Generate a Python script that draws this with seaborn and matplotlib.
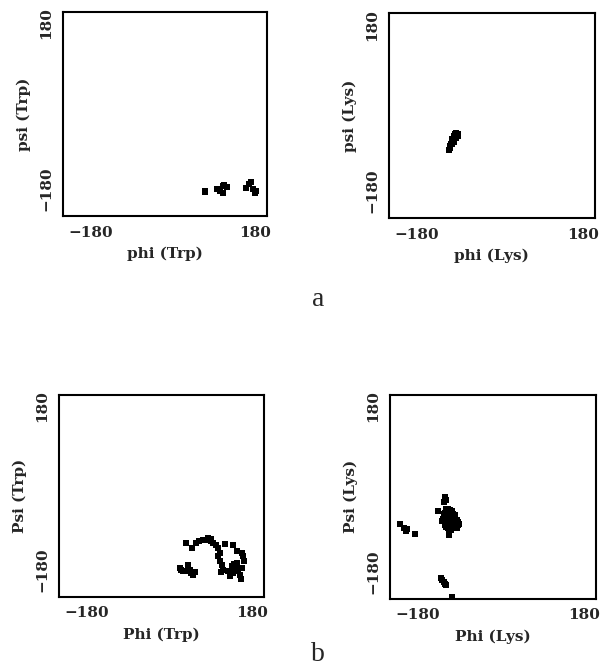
import matplotlib
matplotlib.use("Agg")
import matplotlib.pyplot as plt
import seaborn as sns
import pandas as pd

# phi/psi values (degrees)
trp_a_phi = [69, 70, 97, 102, 108, 112, 118, 110, 160, 165, 170, 175, 180, 178]
trp_a_psi = [-185, -188, -180, -186, -174, -172, -176, -190, -178, -170, -165, -180, -186, -190]

lys_a_phi = [-95, -91, -93, -97, -96, -100, -99, -102, -104, -103, -106, -107, -110, -108,
             -98, -103, -107, -90, -94, -100]
lys_a_psi = [-55, -57, -60, -62, -58, -66, -70, -70, -75, -78, -80, -85, -92, -88,
             -62, -68, -84, -62, -66, -74]

trp_b_phi = [36.7, 49.8, 58.5, 64.4, 73.1, 84, 89.1, 94.9, 100.7, 105.8, 109.5, 120.4, 137.1,
             147.3, 156.7, 160.4, 162.5, 105.8, 109.5, 113.1, 110.9, 116.7, 127.6, 131.3,
             134.9, 138.5, 142.2, 145.8, 149.5, 153.1, 154.5, 147.3, 131.3, 22.2, 25.8, 29.5,
             40.4, 44, 47.6, 51.3, 54.9, 36.7, 86, 91, 140, 136, 158]
trp_b_psi = [-121.2, -132.2, -121.2, -117.6, -115.3, -110.2, -112.4, -121.2, -126.4, -132.2,
             -143.3, -123.4, -127.1, -139.6, -143.3, -150.6, -161.6, -150.6, -161.6, -169,
             -185.9, -180, -183.7, -191, -176.3, -187.4, -180, -172.7, -183.7, -191, -202,
             -165.3, -194.7, -176.3, -180, -183.7, -169, -180, -187.4, -191, -185.9, -183.7,
             -115, -118, -168, -172, -176]

lys_b_phi = [-120, -118, -123, -137, -112, -218, -210, -206, -204, -186.5,
             -130, -127, -124, -121, -119, -105,
             -118, -114, -110, -106, -124, -120, -116, -112, -108, -104, -100,
             -126, -122, -118, -114, -110, -106, -102, -96, -94, -120, -116, -112,
             -108, -104, -100, -98, -118, -114, -110, -106, -102, -112, -108,
             -92, -90, -96, -128, -122]
lys_b_psi = [-18, -25, -30, -48, -100, -78, -85, -92, -88, -98,
             -195, -199, -203, -207, -211, -237,
             -45, -44, -46, -48, -55, -54, -52, -53, -50, -56, -58,
             -65, -63, -62, -64, -66, -63, -65, -68, -72, -74, -73, -75,
             -76, -74, -78, -82, -84, -85, -83, -86, -84, -92, -90,
             -80, -76, -86, -70, -80]

panels = [
    (trp_a_phi, trp_a_psi, "phi (Trp)", "psi (Trp)", [0.105, 0.677, 0.34, 0.305]),
    (lys_a_phi, lys_a_psi, "phi (Lys)", "psi (Lys)", [0.648, 0.674, 0.343, 0.306]),
    (trp_b_phi, trp_b_psi, "Phi (Trp)", "Psi (Trp)", [0.098, 0.108, 0.342, 0.302]),
    (lys_b_phi, lys_b_psi, "Phi (Lys)", "Psi (Lys)", [0.65, 0.105, 0.343, 0.305]),
]

sns.set_style("white")
plt.rcParams["font.family"] = ["DejaVu Serif"]

fig = plt.figure(figsize=(6, 6.69), dpi=100)

for phi, psi, xl, yl, pos in panels:
    ax = fig.add_axes(pos)
    df = pd.DataFrame({"phi": phi, "psi": psi})
    sns.scatterplot(data=df, x="phi", y="psi", ax=ax, color="black",
                    marker="s", s=14, linewidth=0)
    ax.set_xlim(-240, 205)
    ax.set_ylim(-240, 205)
    ax.set_xticks([-180, 180])
    ax.set_yticks([-180, 180])
    ax.set_xticklabels(["\u2212180", "180"], fontsize=11, fontweight="bold")
    ax.set_yticklabels(["\u2212180", "180"], fontsize=11, fontweight="bold",
                       rotation=90, va="center")
    ax.tick_params(length=0, pad=7)
    ax.set_xlabel(xl, fontsize=11, fontweight="bold", labelpad=5)
    ax.set_ylabel(yl, fontsize=11, fontweight="bold", labelpad=6)
    for sp in ax.spines.values():
        sp.set_color("black")
        sp.set_linewidth(1.5)

fig.text(0.53, 0.552, "a", fontsize=20, family="Liberation Serif", ha="center", va="center")
fig.text(0.53, 0.021, "b", fontsize=20, family="Liberation Serif", ha="center", va="center")

fig.savefig("out.png", dpi=100)
